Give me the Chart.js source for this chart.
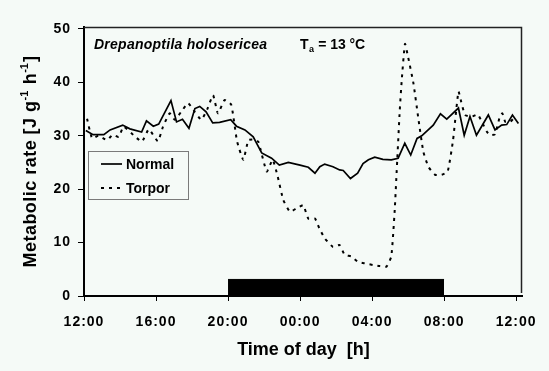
<!DOCTYPE html>
<html>
<head>
<meta charset="utf-8">
<script src="https://cdn.jsdelivr.net/npm/chart.js"></script>
<style>
  html, body { margin: 0; padding: 0; background: #f5faf7; }
  #wrap { width: 549px; height: 371px; }
</style>
</head>
<body>
<div id="wrap"><canvas id="chart" width="549" height="371"></canvas></div>
<script>
// hours after 12:00 (noon) and metabolic rate in J g-1 h-1
const normalHours = [0.1, 0.5, 1.1, 1.45, 2.15, 2.55, 3.2, 3.47, 3.85, 4.15, 4.83, 5.14, 5.47, 5.83, 6.16,
  6.43, 6.78, 7.15, 7.53, 8.15, 8.47, 8.94, 9.4, 9.87, 10.42, 10.85, 11.35, 12.0, 12.46, 12.83,
  13.1, 13.37, 13.83, 14.2, 14.4, 14.8, 15.2, 15.5, 15.8, 16.15, 16.6, 17.07, 17.45, 17.82, 18.15,
  18.5, 18.76, 19.4, 19.8, 20.15, 20.8, 21.12, 21.44, 21.8, 22.46, 22.83, 23.2, 23.48, 23.8, 24.13];
const normalRate = [31.0, 30.2, 30.2, 31.1, 32.0, 31.3, 30.7, 32.8, 31.8, 32.2, 36.6, 32.6, 33.1, 31.4, 35.1,
  35.5, 34.5, 32.4, 32.5, 33.0, 31.8, 31.1, 29.8, 26.8, 25.8, 24.5, 25.0, 24.5, 24.1, 23.0,
  24.2, 24.7, 24.2, 23.6, 23.5, 22.0, 23.0, 24.8, 25.5, 26.0, 25.6, 25.5, 25.8, 28.6, 26.4,
  29.5, 30.0, 32.0, 34.1, 33.1, 35.2, 30.1, 33.6, 30.1, 33.9, 31.1, 32.0, 32.1, 33.9, 32.3];

const torporHours = [0.17, 0.45, 0.8, 1.28, 1.6, 1.93, 2.2, 2.85, 3.22, 3.6, 4.1, 4.39, 4.76, 5.04, 5.4,
  5.78, 6.15, 6.52, 6.85, 7.17, 7.44, 7.81, 8.18, 8.5, 8.85, 9.13, 9.4, 9.68, 10.15, 10.48,
  10.75, 11.07, 11.44, 11.8, 12.18, 12.46, 12.83, 13.07, 13.37, 13.83, 14.2, 14.48, 14.85, 15.22, 15.6,
  16.06, 16.43, 16.8, 17.07, 17.26, 17.4, 17.54, 17.65, 17.83, 18.0, 18.3, 18.57, 18.85, 19.13, 19.5,
  19.87, 20.2, 20.5, 20.8, 20.95, 21.17, 21.54, 21.87, 22.1, 22.37, 22.56, 22.83, 23.1, 23.24, 23.4,
  23.67, 23.95];
const torporRate = [33.2, 29.5, 30.0, 29.2, 30.2, 29.8, 31.7, 29.8, 28.9, 31.2, 29.0, 31.7, 34.2, 33.0, 34.5,
  36.1, 34.5, 33.0, 35.0, 37.6, 34.2, 36.7, 35.8, 29.0, 25.5, 29.2, 29.3, 28.9, 23.3, 25.5,
  22.5, 18.0, 15.8, 16.4, 17.0, 14.5, 14.5, 12.7, 10.8, 9.2, 9.55, 7.7, 7.4, 6.4, 6.1,
  5.8, 5.6, 5.5, 7.4, 16.1, 25.5, 34.8, 40.4, 47.2, 44.8, 39.8, 33.3, 27.0, 24.2, 22.7,
  22.7, 23.3, 29.2, 38.3, 36.4, 33.9, 33.6, 34.0, 32.6, 30.8, 30.1, 30.3, 33.6, 34.2, 32.6,
  32.6, 33.6];

const darkPhase = [8, 20];      // 20:00 - 08:00
const darkBarHeight = 3.1;
const xTickHours = [0, 4, 8, 12, 16, 20, 24];
const xTickLabels = ["12:00", "16:00", "20:00", "00:00", "04:00", "08:00", "12:00"];
const yTicks = [0, 10, 20, 30, 40, 50];

const FONT = "'Liberation Sans', Arial, Helvetica, sans-serif";
const BG = "#f5faf7";

function pts(xs, ys) {
  return xs.map((x, i) => ({ x: x, y: ys[i] }));
}

function spaced(ctx, text, x, y, width) {
  ctx.letterSpacing = "0px";
  const w = ctx.measureText(text).width;
  if (width && text.length > 1) {
    ctx.letterSpacing = ((width - w) / (text.length - 1)) + "px";
  }
  ctx.fillText(text, x, y);
  const out = ctx.measureText(text).width;
  ctx.letterSpacing = "0px";
  return out;
}

const decorations = {
  id: "decorations",
  beforeDraw(chart) {
    const ctx = chart.ctx;
    ctx.save();
    ctx.fillStyle = BG;
    ctx.fillRect(0, 0, chart.width, chart.height);
    ctx.restore();
    // the tick labels in the original are set a little wider
    ctx.letterSpacing = "1px";
  },
  afterDraw(chart) {
    const ctx = chart.ctx;
    const a = chart.chartArea;
    ctx.letterSpacing = "0px";
    ctx.save();

    // plot frame (top / right)
    ctx.strokeStyle = "#222";
    ctx.lineWidth = 1.5;
    ctx.beginPath();
    ctx.moveTo(a.left, a.top + 0.5);
    ctx.lineTo(a.right - 0.5, a.top + 0.5);
    ctx.lineTo(a.right - 0.5, a.bottom - 3);
    ctx.stroke();

    // species name and temperature
    ctx.fillStyle = "#000";
    ctx.textBaseline = "alphabetic";
    ctx.textAlign = "left";
    ctx.font = "italic bold 14px " + FONT;
    spaced(ctx, "Drepanoptila holosericea", 94, 49, 173);
    ctx.font = "bold 14px " + FONT;
    let x = 300;
    x += spaced(ctx, "T", x, 49);
    ctx.font = "bold 9px " + FONT;
    x += spaced(ctx, "a", x + 0.5, 52) + 1;
    ctx.font = "bold 14px " + FONT;
    spaced(ctx, " = 13 °C", x, 49, 365 - x);

    // legend box
    ctx.fillStyle = BG;
    ctx.fillRect(88.5, 151.5, 100, 48);
    ctx.strokeStyle = "#7a7a7a";
    ctx.lineWidth = 1;
    ctx.strokeRect(88.5, 151.5, 100, 48);
    const rows = [164, 188];
    chart.data.datasets.slice(0, 2).forEach((ds, i) => {
      ctx.strokeStyle = ds.borderColor;
      ctx.lineWidth = ds.borderWidth;
      ctx.setLineDash(ds.borderDash || []);
      ctx.beginPath();
      ctx.moveTo(101, rows[i]);
      ctx.lineTo(122, rows[i]);
      ctx.stroke();
      ctx.setLineDash([]);
      ctx.fillStyle = "#000";
      ctx.font = "bold 14px " + FONT;
      ctx.textBaseline = "middle";
      ctx.fillText(ds.label, 126, rows[i] + 1);
    });

    // x axis title
    ctx.textBaseline = "alphabetic";
    ctx.textAlign = "center";
    ctx.font = "bold 18px " + FONT;
    ctx.fillText("Time of day  [h]", 303.5, 355);

    // y axis title with superscripts
    const parts = [
      { t: "Metabolic rate [J g", sup: false },
      { t: "-1", sup: true },
      { t: " h", sup: false },
      { t: "-1", sup: true },
      { t: "]", sup: false }
    ];
    ctx.textAlign = "left";
    let total = 0;
    parts.forEach(p => {
      ctx.font = (p.sup ? "bold 11px " : "bold 18px ") + FONT;
      p.w = ctx.measureText(p.t).width + (p.sup ? 1 : 0);
      total += p.w;
    });
    const gap = (211 - total) / 20;
    ctx.translate(36, 162 + 211 / 2);
    ctx.rotate(-Math.PI / 2);
    let px = 0;
    parts.forEach(p => {
      ctx.font = (p.sup ? "bold 11px " : "bold 18px ") + FONT;
      ctx.letterSpacing = (p.sup ? 0 : gap) + "px";
      ctx.fillText(p.t, px, p.sup ? -8 : 0);
      px += ctx.measureText(p.t).width + (p.sup ? 1 : 0);
    });
    ctx.letterSpacing = "0px";
    ctx.restore();
  }
};

new Chart(document.getElementById("chart"), {
  type: "line",
  data: {
    datasets: [
      {
        label: "Normal",
        data: pts(normalHours, normalRate),
        borderColor: "#000",
        borderWidth: 1.7,
        pointRadius: 0,
        tension: 0,
        fill: false
      },
      {
        label: "Torpor",
        data: pts(torporHours, torporRate),
        borderColor: "#000",
        borderWidth: 2,
        borderDash: [3, 5],
        pointRadius: 0,
        tension: 0.15,
        fill: false
      },
      {
        label: "dark",
        data: pts(darkPhase, [darkBarHeight, darkBarHeight]),
        borderColor: "#000",
        backgroundColor: "#000",
        borderWidth: 1,
        pointRadius: 0,
        fill: "origin"
      }
    ]
  },
  options: {
    responsive: false,
    animation: false,
    layout: { padding: { left: 0, top: 27, right: 27, bottom: 0 } },
    plugins: {
      legend: { display: false },
      tooltip: { enabled: false }
    },
    scales: {
      x: {
        type: "linear",
        min: 0,
        max: 24.33,
        afterBuildTicks: (s) => { s.ticks = xTickHours.map(v => ({ value: v })); },
        afterFit: (s) => { s.height = 75; },
        ticks: {
          autoSkip: false,
          maxRotation: 0,
          padding: 13,
          color: "#000",
          font: { family: FONT, size: 14, weight: "bold" },
          callback: (v) => xTickLabels[xTickHours.indexOf(v)]
        },
        grid: { drawOnChartArea: false, drawTicks: true, tickLength: 5, color: "#000" },
        border: { display: true, color: "#000", width: 2 }
      },
      y: {
        type: "linear",
        min: 0,
        max: 50.37,
        afterBuildTicks: (s) => { s.ticks = yTicks.map(v => ({ value: v })); },
        afterFit: (s) => { s.width = 84; },
        ticks: {
          padding: 7,
          color: "#000",
          font: { family: FONT, size: 14, weight: "bold" }
        },
        grid: { drawOnChartArea: false, drawTicks: true, tickLength: 6, color: "#000" },
        border: { display: true, color: "#000", width: 2 }
      }
    }
  },
  plugins: [decorations]
});
</script>
</body>
</html>
